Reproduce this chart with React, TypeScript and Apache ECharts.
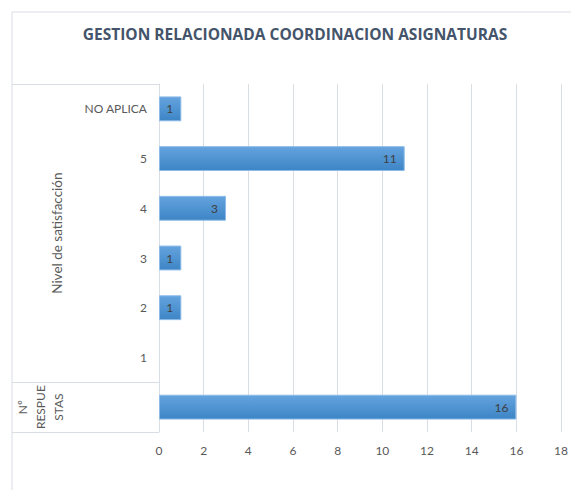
import React, { useEffect, useRef } from "react";
import * as echarts from "echarts";

const TITLE = "GESTION RELACIONADA COORDINACION ASIGNATURAS";
const categories = ["NO APLICA", "5", "4", "3", "2", "1", ""];
const values: (number | null)[] = [1, 11, 3, 1, 1, null, 16];
const groupLabels = ["Nivel de satisfacción", "Nº\nRESPUE\nSTAS"];
const groupSizes = [6, 1];
const X_MAX = 18;
const X_INTERVAL = 2;

const W = 571;
const H = 490;
const GRID = { left: 159, right: 9, top: 84, bottom: 58 };
const FRAME = 12;
const LINE = "#d9dde4";
const FONT = "Lato, 'Open Sans', sans-serif";

export default function App() {
  const ref = useRef<HTMLDivElement>(null);
  useEffect(() => {
    if (!ref.current) return;
    const chart = echarts.init(ref.current, undefined, { renderer: "svg" });
    const plotTop = GRID.top;
    const plotBottom = H - GRID.bottom;
    const band = (plotBottom - plotTop) / categories.length;
    const graphics: any[] = [
      {
        type: "rect",
        shape: { x: FRAME, y: FRAME, width: W, height: H },
        style: { fill: "none", stroke: LINE, lineWidth: 1 },
        silent: true,
      },
      {
        type: "text",
        x: 295,
        y: 34,
        style: {
          text: TITLE,
          font: `bold 15.5px 'Open Sans', sans-serif`,
          fill: "#44546a",
          align: "center",
          verticalAlign: "middle",
        },
      },
    ];
    let start = 0;
    const yLines = [plotTop];
    groupSizes.forEach((n, i) => {
      const y0 = plotTop + start * band;
      const y1 = plotTop + (start + n) * band;
      yLines.push(y1);
      graphics.push({
        type: "text",
        x: i === 0 ? 57 : 40,
        y: (y0 + y1) / 2,
        rotation: Math.PI / 2,
        style: {
          text: groupLabels[i],
          font: `${i === 0 ? 13.5 : 12}px ${FONT}`,
          fill: "#595959",
          align: "center",
          verticalAlign: "middle",
          lineHeight: 18,
        },
      });
      start += n;
    });
    yLines.forEach((y) => {
      const yy = Math.round(y) + 0.5;
      graphics.push({
        type: "line",
        shape: { x1: FRAME, y1: yy, x2: GRID.left, y2: yy },
        style: { stroke: LINE, lineWidth: 1 },
        silent: true,
      });
    });

    chart.setOption({
      animation: false,
      grid: { ...GRID, containLabel: false },
      xAxis: {
        type: "value",
        min: 0,
        max: X_MAX,
        interval: X_INTERVAL,
        axisLine: { show: false },
        axisTick: { show: false },
        splitLine: { lineStyle: { color: LINE, width: 1 } },
        axisLabel: { color: "#595959", fontSize: 12, fontFamily: FONT, margin: 12 },
      },
      yAxis: {
        type: "category",
        inverse: true,
        data: categories,
        axisLine: { show: true, lineStyle: { color: LINE } },
        axisTick: { show: false },
        axisLabel: { color: "#595959", fontSize: 12, fontFamily: FONT, margin: 12 },
      },
      series: [
        {
          type: "bar",
          data: values,
          barCategoryGap: "50%",
          itemStyle: {
            color: new echarts.graphic.LinearGradient(0, 0, 0, 1, [
              { offset: 0, color: "#64a3de" },
              { offset: 1, color: "#3d85c6" },
            ]),
            borderColor: "#8dbbe8",
            borderWidth: 1,
          },
          label: {
            show: true,
            position: "insideRight",
            color: "#404040",
            fontSize: 12,
            fontFamily: FONT,
            distance: 8,
            formatter: (p: any) => (p.value == null ? "" : String(p.value)),
          },
        },
      ],
      graphic: graphics,
    });
    return () => chart.dispose();
  }, []);
  return <div ref={ref} style={{ width: W, height: H, position: "absolute", left: 0, top: 0, background: "#fff" }} />;
}
